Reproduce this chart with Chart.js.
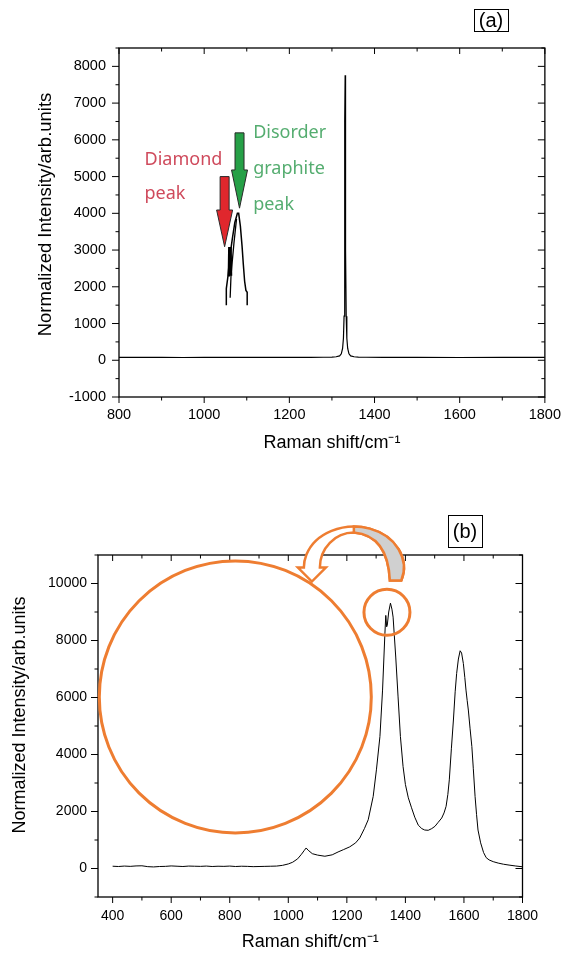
<!DOCTYPE html>
<html>
<head>
<meta charset="utf-8">
<script src="https://cdn.jsdelivr.net/npm/chart.js@4.4.1/dist/chart.umd.min.js"></script>
<style>
  body { margin: 0; background: #fff; width: 570px; height: 953px; overflow: hidden; position: relative; }
  #wrapA { position: absolute; left: 0; top: 0; width: 570px; height: 470px; }
  #wrapB { position: absolute; left: 0; top: 470px; width: 570px; height: 483px; }
</style>
</head>
<body>
<div id="wrapA"><canvas id="chartA"></canvas></div>
<div id="wrapB"><canvas id="chartB"></canvas></div>
<script>
// ---------- panel (a) ----------
const ramanA = [800, 850, 900, 950, 1000, 1050, 1100, 1150, 1200, 1250, 1280, 1300, 1310, 1318, 1322, 1325, 1327, 1328.5, 1329.5, 1330.5, 1331, 1331.5, 1332.5, 1333.5, 1335, 1337, 1340, 1344, 1352, 1362, 1380, 1420, 1500, 1600, 1700, 1800];
const intensityA = [80, 76, 79, 75, 78, 80, 76, 78, 77, 80, 82, 86, 95, 120, 175, 320, 600, 1200, 3000, 6500, 7760, 6500, 3000, 1200, 600, 320, 175, 120, 95, 86, 82, 79, 77, 75, 78, 76];

// the small sketch pasted inside panel (a)
const sketchOuterX = [1052, 1052, 1056, 1060, 1066, 1072, 1078, 1081, 1085, 1089, 1092, 1095, 1098, 1101, 1101];
const sketchOuterY = [1500, 1950, 2300, 2800, 3300, 3750, 4000, 4000, 3650, 3100, 2600, 2150, 1900, 1850, 1500];
const sketchInnerX = [1076, 1070, 1066, 1063, 1061];
const sketchInnerY = [3850, 3200, 2700, 2300, 1700];
const sketchSpikeX = [1058, 1059, 1062, 1063];
const sketchSpikeY = [2280, 3050, 3050, 2300];

const ticksXA = [800, 1000, 1200, 1400, 1600, 1800];
const ticksYA = [-1000, 0, 1000, 2000, 3000, 4000, 5000, 6000, 7000, 8000];

const noteTextA = ['Diamond', 'peak', 'Disorder', 'graphite', 'peak'];
const noteXA = [860, 860, 1115, 1115, 1115];
const noteYA = [5310, 4390, 6050, 5070, 4090];
const arrowXA = [1048, 1083];
const arrowTopA = [5000, 6190];
const arrowNeckA = [4090, 5180];
const arrowTipA = [3090, 4140];

// ---------- panel (b) ----------
const ramanB = [400, 420, 440, 460, 480, 500, 520, 540, 560, 580, 600, 620, 640, 660, 680, 700, 720, 740, 760, 780, 800, 820, 840, 860, 880, 900, 920, 940, 960, 980, 1000, 1015, 1032, 1045, 1055, 1061, 1068, 1082, 1100, 1125, 1150, 1170, 1188, 1210, 1230, 1244, 1260, 1273, 1290, 1301, 1313, 1322, 1330, 1333, 1336, 1338, 1343, 1349, 1354, 1358, 1367, 1375, 1383, 1392, 1400, 1410, 1421, 1432, 1444, 1456, 1466, 1478, 1490, 1501, 1512, 1524, 1532, 1539, 1545, 1550, 1557, 1564, 1570, 1575, 1581, 1587, 1592, 1598, 1603, 1607, 1611, 1615, 1621, 1627, 1632, 1638, 1643, 1648, 1657, 1667, 1676, 1686, 1700, 1717, 1735, 1754, 1775, 1800];
const intensityB = [80, 70, 85, 75, 90, 95, 65, 55, 70, 75, 90, 80, 70, 85, 80, 75, 85, 70, 80, 75, 85, 70, 80, 75, 65, 70, 75, 80, 85, 110, 160, 220, 340, 500, 640, 720, 640, 520, 470, 430, 480, 580, 660, 760, 900, 1070, 1400, 1710, 2530, 3460, 4630, 6260, 8240, 8880, 8480, 8530, 9000, 9310, 9100, 8820, 7420, 6020, 4630, 3580, 2950, 2480, 2130, 1800, 1520, 1400, 1350, 1340, 1400, 1480, 1620, 1770, 1950, 2180, 2600, 3110, 4200, 5210, 6200, 6840, 7350, 7640, 7560, 7190, 6700, 6260, 5900, 5560, 4900, 4280, 3500, 2530, 1900, 1350, 900, 560, 380, 300, 240, 190, 150, 120, 90, 60];

const ticksXB = [400, 600, 800, 1000, 1200, 1400, 1600, 1800];
const ticksYB = [0, 2000, 4000, 6000, 8000, 10000];

// orange marks of panel (b), anchored in data units
const circleXB = [819, 1337];
const circleYB = [6020, 8990];
const curveArrowB = [1224, 10560];

const FONT = "'Liberation Sans', Arial, Helvetica, sans-serif";
const ORANGE = '#ee7d31';

function pts(xs, ys) {
    return xs.map((x, i) => ({ x: x, y: ys[i] }));
}

function lineSet(xs, ys, width) {
    return { data: pts(xs, ys), showLine: true, borderColor: '#000', borderWidth: width, pointRadius: 0, tension: 0, fill: false };
}

// frame with ticks on all four sides, Origin style
const framePlugin = {
    id: 'frame',
    afterDraw(chart, args, o) {
        const { ctx, chartArea: a, scales: { x, y } } = chart;
        ctx.save();
        ctx.strokeStyle = '#000';
        ctx.lineWidth = 1.3;
        ctx.strokeRect(a.left, a.top, a.right - a.left, a.bottom - a.top);
        ctx.lineWidth = 1;
        ctx.beginPath();
        for (let v = Math.ceil(x.min / o.xMinor) * o.xMinor; v <= x.max; v += o.xMinor) {
            const px = x.getPixelForValue(v);
            const len = v % o.xMajor === 0 ? 6 : 3.5;
            ctx.moveTo(px, a.bottom); ctx.lineTo(px, a.bottom + len);
            ctx.moveTo(px, a.top); ctx.lineTo(px, a.top + len);
        }
        for (let v = Math.ceil(y.min / o.yMinor) * o.yMinor; v <= y.max; v += o.yMinor) {
            const py = y.getPixelForValue(v);
            const len = v % o.yMajor === 0 ? 7 : 3.5;
            ctx.moveTo(a.left, py); ctx.lineTo(a.left - len, py);
            ctx.moveTo(a.right, py); ctx.lineTo(a.right - len, py);
        }
        ctx.stroke();

        // y axis title (sits a little above the axis centre in the original)
        ctx.fillStyle = '#000';
        ctx.font = o.yTitleSize + 'px ' + FONT;
        ctx.textAlign = 'center';
        ctx.textBaseline = 'middle';
        ctx.save();
        ctx.translate(o.yTitleX, (a.top + a.bottom) / 2 - o.yTitleLift);
        ctx.rotate(-Math.PI / 2);
        ctx.fillText('Normalized Intensity/arb.units', 0, 0);
        ctx.restore();

        // boxed panel letter
        const [bx, by, bw, bh] = o.box;
        ctx.lineWidth = 1;
        ctx.strokeRect(bx + 0.5, by + 0.5, bw, bh);
        ctx.font = '20px ' + FONT;
        ctx.fillText(o.label, bx + bw / 2, by + bh / 2 + 1);
        ctx.restore();
    }
};

function downArrow(ctx, cx, top, neck, tip, fill) {
    ctx.beginPath();
    ctx.moveTo(cx - 4.5, top);
    ctx.lineTo(cx + 4.5, top);
    ctx.lineTo(cx + 4.5, neck);
    ctx.lineTo(cx + 8, neck);
    ctx.lineTo(cx, tip);
    ctx.lineTo(cx - 8, neck);
    ctx.lineTo(cx - 4.5, neck);
    ctx.closePath();
    ctx.fillStyle = fill;
    ctx.fill();
    ctx.strokeStyle = '#2a2a2a';
    ctx.lineWidth = 1;
    ctx.stroke();
}

const notesAPlugin = {
    id: 'notesA',
    afterDatasetsDraw(chart) {
        const { ctx, scales: { x, y } } = chart;
        ctx.save();
        const fills = ['#e0272d', '#26a047'];
        arrowXA.forEach((v, i) => {
            downArrow(ctx, x.getPixelForValue(v), y.getPixelForValue(arrowTopA[i]),
                y.getPixelForValue(arrowNeckA[i]), y.getPixelForValue(arrowTipA[i]), fills[i]);
        });
        ctx.font = "18px 'Noto Sans', 'Open Sans', sans-serif";
        ctx.textAlign = 'left';
        ctx.textBaseline = 'alphabetic';
        noteTextA.forEach((t, i) => {
            ctx.fillStyle = i < 2 ? '#cf4a5c' : '#55ad70';
            ctx.fillText(t, x.getPixelForValue(noteXA[i]), y.getPixelForValue(noteYA[i]));
        });
        ctx.restore();
    }
};

const marksBPlugin = {
    id: 'marksB',
    afterDraw(chart) {
        const { ctx, scales: { x, y } } = chart;
        ctx.save();
        ctx.strokeStyle = ORANGE;
        ctx.lineWidth = 3;
        const radii = [136, 23];
        circleXB.forEach((v, i) => {
            ctx.beginPath();
            ctx.arc(x.getPixelForValue(v), y.getPixelForValue(circleYB[i]), radii[i], 0, Math.PI * 2);
            ctx.stroke();
        });

        // curved arrow from the small circle to the big one
        const cx = x.getPixelForValue(curveArrowB[0]);
        const cy = y.getPixelForValue(curveArrowB[1]);
        const a1 = 0.3225;
        ctx.lineWidth = 2.5;
        ctx.beginPath();
        ctx.ellipse(cx, cy, 50, 41, 0, a1, Math.PI, true);
        ctx.lineTo(cx - 56, cy);
        ctx.lineTo(cx - 42, cy + 14);
        ctx.lineTo(cx - 28, cy);
        ctx.lineTo(cx - 34, cy);
        ctx.ellipse(cx, cy, 34, 35, 0, Math.PI, Math.PI * 1.5, false);
        ctx.quadraticCurveTo(cx + 34, cy - 32, cx + 36, cy + 13);
        ctx.closePath();
        ctx.fillStyle = '#fff';
        ctx.fill();
        ctx.stroke();

        ctx.beginPath();
        ctx.moveTo(cx, cy - 35);
        ctx.quadraticCurveTo(cx + 34, cy - 32, cx + 36, cy + 13);
        ctx.lineTo(cx + 50 * Math.cos(a1), cy + 41 * Math.sin(a1));
        ctx.ellipse(cx, cy, 50, 41, 0, a1, -Math.PI / 2, true);
        ctx.closePath();
        ctx.fillStyle = '#d0d0d0';
        ctx.fill();
        ctx.stroke();
        ctx.restore();
    }
};

function makeScales(c) {
    return {
        x: {
            type: 'linear', min: c.xRange[0], max: c.xRange[1],
            afterBuildTicks: s => { s.ticks = c.xTicks.map(v => ({ value: v })); },
            afterFit: s => { s.height = c.xHeight; },
            grid: { display: false, drawTicks: false },
            border: { display: false },
            ticks: { color: '#000', font: { family: FONT, size: c.tickSize }, padding: c.xPad, maxRotation: 0, autoSkip: false, callback: v => String(v) },
            title: { display: true, text: 'Raman shift/cm⁻¹', color: '#000', font: { family: FONT, size: 18 }, padding: { top: 0, bottom: c.xTitlePad } }
        },
        y: {
            type: 'linear', min: c.yRange[0], max: c.yRange[1],
            afterBuildTicks: s => { s.ticks = c.yTicks.map(v => ({ value: v })); },
            afterFit: s => { s.width = c.yWidth; },
            grid: { display: false, drawTicks: false },
            border: { display: false },
            ticks: { color: '#000', font: { family: FONT, size: c.tickSize }, padding: c.yPad, autoSkip: false, callback: v => String(v) },
            title: { display: false }
        }
    };
}

new Chart(document.getElementById('chartA'), {
    type: 'scatter',
    data: {
        datasets: [
            lineSet(ramanA, intensityA, 1.2),
            lineSet(sketchOuterX, sketchOuterY, 1.5),
            lineSet(sketchInnerX, sketchInnerY, 1.3),
            lineSet(sketchSpikeX, sketchSpikeY, 2.5)
        ]
    },
    options: {
        responsive: true,
        maintainAspectRatio: false,
        animation: false,
        layout: { padding: { left: 0, top: 48, right: 20, bottom: 0 } },
        plugins: {
            legend: { display: false },
            tooltip: { enabled: false },
            frame: { xMinor: 100, xMajor: 200, yMinor: 500, yMajor: 1000, box: [474, 9, 34, 22], label: '(a)',
                yTitleX: 45.5, yTitleLift: 8, yTitleSize: 18.5 }
        },
        scales: makeScales({ xRange: [800, 1800], yRange: [-1000, 8500], xTicks: ticksXA, yTicks: ticksYA,
            xHeight: 73, yWidth: 119, tickSize: 14.5, xPad: 9, yPad: 13, xTitlePad: 16 })
    },
    plugins: [framePlugin, notesAPlugin]
});

new Chart(document.getElementById('chartB'), {
    type: 'scatter',
    data: { datasets: [lineSet(ramanB, intensityB, 1)] },
    options: {
        responsive: true,
        maintainAspectRatio: false,
        animation: false,
        layout: { padding: { left: 0, top: 85, right: 47.5, bottom: 0 } },
        plugins: {
            legend: { display: false },
            tooltip: { enabled: false },
            frame: { xMinor: 100, xMajor: 200, yMinor: 1000, yMajor: 2000, box: [448, 45, 34, 32], label: '(b)',
                yTitleX: 20, yTitleLift: 11, yTitleSize: 18 }
        },
        scales: makeScales({ xRange: [350, 1800], yRange: [-1000, 11000], xTicks: ticksXB, yTicks: ticksYB,
            xHeight: 56, yWidth: 98, tickSize: 14, xPad: 11, yPad: 11, xTitlePad: 0 })
    },
    plugins: [framePlugin, marksBPlugin]
});
</script>
</body>
</html>
